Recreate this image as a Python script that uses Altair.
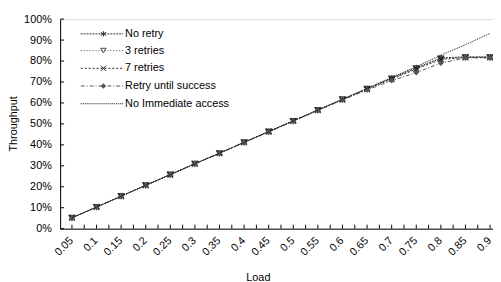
import altair as alt
import pandas as pd

loads = [0.05, 0.1, 0.15, 0.2, 0.25, 0.3, 0.35, 0.4, 0.45, 0.5,
         0.55, 0.6, 0.65, 0.7, 0.75, 0.8, 0.85, 0.9]

no_retry = [0.052, 0.103, 0.155, 0.207, 0.258, 0.310, 0.360, 0.412, 0.463,
            0.514, 0.566, 0.617, 0.668, 0.718, 0.768, 0.815, 0.820, 0.820]
three_retries = [0.052, 0.103, 0.155, 0.207, 0.258, 0.310, 0.360, 0.412, 0.463,
                 0.514, 0.566, 0.617, 0.667, 0.716, 0.765, 0.812, 0.818, 0.818]
seven_retries = [0.052, 0.103, 0.155, 0.207, 0.258, 0.310, 0.360, 0.412, 0.463,
                 0.514, 0.565, 0.616, 0.666, 0.714, 0.762, 0.808, 0.817, 0.817]
until_success = [0.052, 0.103, 0.155, 0.207, 0.258, 0.310, 0.360, 0.411, 0.462,
                 0.513, 0.564, 0.614, 0.662, 0.706, 0.745, 0.790, 0.815, 0.815]
no_immediate = [0.052, 0.103, 0.155, 0.207, 0.258, 0.310, 0.360, 0.412, 0.464,
                0.515, 0.567, 0.618, 0.670, 0.722, 0.773, 0.828, 0.878, 0.932]

series_names = ["No retry", "3 retries", "7 retries",
                "Retry until success", "No Immediate access"]
series_values = [no_retry, three_retries, seven_retries, until_success, no_immediate]

x_ticks = [0.05, 0.075, 0.1, 0.125, 0.15, 0.175, 0.2, 0.225, 0.25, 0.275, 0.3,
           0.325, 0.35, 0.375, 0.4, 0.425, 0.45, 0.475, 0.5, 0.525, 0.55, 0.575,
           0.6, 0.625, 0.65, 0.675, 0.7, 0.725, 0.75, 0.775, 0.8, 0.825, 0.85,
           0.875, 0.9]
y_ticks = [0, 0.1, 0.2, 0.3, 0.4, 0.5, 0.6, 0.7, 0.8, 0.9, 1.0]

# styles per series
dashes = [[2, 1], [1, 2], [2, 2], [4, 2, 1, 2], [1, 1]]
shapes = ["M0,-1L0,1M-1,-0.6L1,0.6M-1,0.6L1,-0.6",
          "triangle-down",
          "M-1,-1L1,1M-1,1L1,-1",
          "diamond",
          None]
filled = [False, False, False, True, False]
colors = ["#333333", "#444444", "#222222", "#555555", "#111111"]

xscale = alt.Scale(domain=[0.026, 0.906], nice=False, zero=False)
yscale = alt.Scale(domain=[0, 1], nice=False)

x_axis = alt.Axis(values=loads, ticks=False, grid=False, labelOverlap=False,
                  labelExpr="format(datum.value, '.2~f')",
                  labelAngle=-45, labelAlign="right", labelBaseline="top",
                  labelPadding=6, labelOffset=-5, labelFontSize=11,
                  labelColor="black",
                  domainColor="black", title="Load", titleFontWeight="normal",
                  titleFontSize=11, titleX=201, titleY=50,
                  titleAlign="center", titleBaseline="middle")
y_axis = alt.Axis(values=y_ticks, format=".0%", ticks=False, grid=False,
                  labelOverlap=False,
                  labelPadding=9, labelFontSize=11, labelColor="black",
                  domainColor="black", title="Throughput",
                  titleFontWeight="normal", titleFontSize=11,
                  titleX=-47, titleY=106, titleAngle=-90,
                  titleAlign="center", titleBaseline="middle")

X = alt.X("load:Q", scale=xscale, axis=x_axis)
Y = alt.Y("thr:Q", scale=yscale, axis=y_axis)

layers = []

# inward ticks
xt = pd.DataFrame({"load": x_ticks})
layers.append(alt.Chart(xt).mark_rule(color="black", strokeWidth=1).encode(
    x=X, y=alt.datum(0, scale=yscale, axis=y_axis), y2=alt.value(209)))
yt = pd.DataFrame({"thr": y_ticks})
layers.append(alt.Chart(yt).mark_rule(color="black", strokeWidth=1).encode(
    y=Y, x=alt.value(0), x2=alt.value(4)))

legend_y = [15, 32, 50, 68, 86]

for i, name in enumerate(series_names):
    df = pd.DataFrame({"load": loads, "thr": series_values[i]})
    base = alt.Chart(df).encode(x=X, y=Y)
    layers.append(base.mark_line(color=colors[i], strokeWidth=1,
                                 strokeDash=dashes[i], clip=True))
    if shapes[i] is not None:
        layers.append(base.mark_point(shape=shapes[i], size=34, filled=filled[i],
                                      color=colors[i], strokeWidth=1.2,
                                      opacity=1))
    # legend entry
    ldf = pd.DataFrame({"name": [name]})
    lb = alt.Chart(ldf)
    layers.append(lb.mark_rule(color=colors[i], strokeWidth=1,
                               strokeDash=dashes[i]).encode(
        x=alt.value(21), x2=alt.value(64), y=alt.value(legend_y[i])))
    if shapes[i] is not None:
        layers.append(lb.mark_point(shape=shapes[i], size=30, filled=filled[i],
                                    color=colors[i], strokeWidth=1,
                                    opacity=1).encode(
            x=alt.value(44), y=alt.value(legend_y[i])))
    layers.append(lb.mark_text(align="left", baseline="middle", fontSize=11,
                               font="Liberation Sans", color="black").encode(
        x=alt.value(66), y=alt.value(legend_y[i]), text="name:N"))

chart = alt.layer(*layers).properties(
    width=440, height=213,
    autosize=alt.AutoSizeParams(type="none"),
    padding={"left": 53, "top": 9, "right": 0, "bottom": 58},
).configure_view(stroke=None).configure(font="Liberation Sans").configure_axis(
    labelOverlap=False)

chart.save("out.html", embed_options={"renderer": "svg", "actions": False})
